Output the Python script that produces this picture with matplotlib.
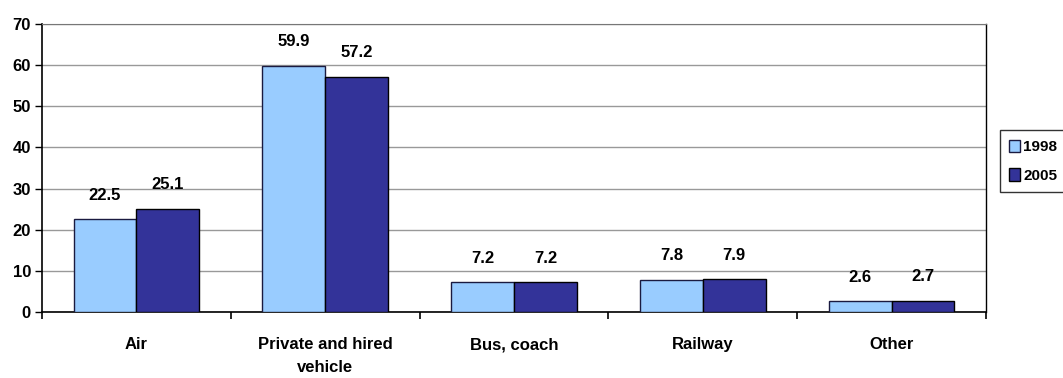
import matplotlib.pyplot as plt
import numpy as np

categories = ['Air', 'Private and hired\nvehicle', 'Bus, coach', 'Railway', 'Other']
years = ['1998', '2005']
values_1998 = [22.5, 59.9, 7.2, 7.8, 2.6]
values_2005 = [25.1, 57.2, 7.2, 7.9, 2.7]

plt.rcParams['font.family'] = ['Liberation Sans Narrow', 'Liberation Sans', 'DejaVu Sans']
plt.rcParams['font.weight'] = 'bold'

fig = plt.figure(figsize=(10.63, 3.78), dpi=100)
ax = fig.add_axes([0.0395, 0.1746, 0.888, 0.762])

x = np.arange(len(categories))
w = 0.333
b1 = ax.bar(x - w / 2, values_1998, w, color='#99ccff', edgecolor='#1a1a40', linewidth=1.0, label=years[0], zorder=3)
b2 = ax.bar(x + w / 2, values_2005, w, color='#333399', edgecolor='black', linewidth=1.0, label=years[1], zorder=3)

# value labels above each bar
for bars, vals in ((b1, values_1998), (b2, values_2005)):
    for r, v in zip(bars, vals):
        ax.annotate(f'{v:.1f}', (r.get_x() + r.get_width() / 2, v),
                    xytext=(0, 12), textcoords='offset points',
                    ha='center', va='bottom', fontsize=12, fontweight='bold')

ax.set_xlim(-0.5, len(categories) - 0.5)
ax.set_ylim(0, 70)
ax.set_yticks(range(0, 71, 10))
ax.yaxis.grid(True, color='#999999', linewidth=1.0, zorder=0)
ax.tick_params(axis='y', labelsize=12, length=5, direction='out', width=1, pad=3)
ax.set_xticks(x)
ax.set_xticklabels(categories, fontsize=12, fontweight='bold', linespacing=1.7)
ax.tick_params(axis='x', length=0, pad=18)
# separator ticks between categories
ax.set_xticks(np.arange(-0.5, len(categories)), minor=True)
ax.tick_params(axis='x', which='minor', length=5, direction='out', width=1.2)

for s in ['left', 'bottom']:
    ax.spines[s].set_linewidth(1.2)
ax.spines['top'].set_color('#777777')
ax.spines['right'].set_color('black')
ax.spines['right'].set_linewidth(1.0)

leg = fig.legend(handles=[b1, b2], labels=years, loc='upper left',
                 bbox_to_anchor=(0.941, 0.655), fontsize=11, frameon=True,
                 fancybox=False, edgecolor='black', handlelength=0.7,
                 handleheight=0.9, handletextpad=0.2, borderpad=0.6,
                 labelspacing=0.9, borderaxespad=0)
leg.get_frame().set_linewidth(1.0)

fig.savefig('out.png', dpi=100)
